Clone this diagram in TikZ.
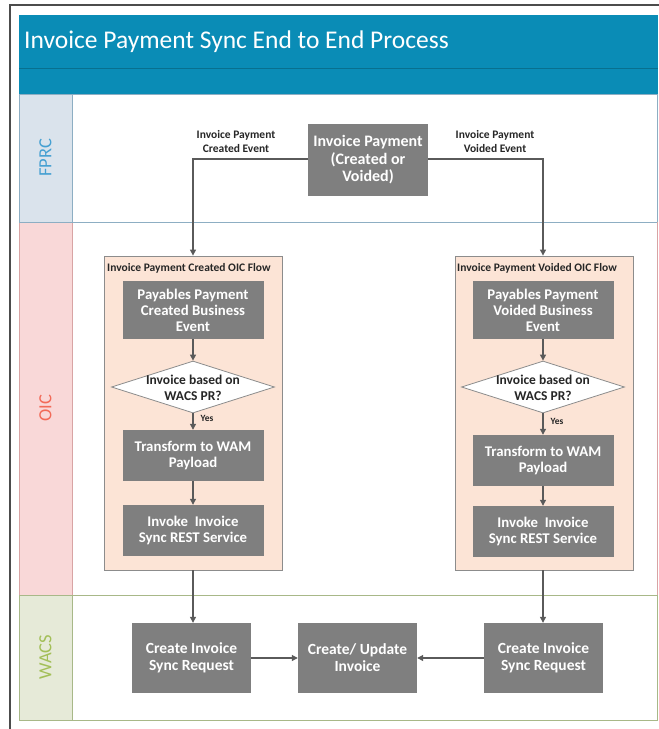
\documentclass[tikz,border=0pt]{standalone}
\usepackage{fontspec}
\setmainfont{Carlito}
\usetikzlibrary{arrows.meta,shapes.geometric}

\definecolor{barblue}{HTML}{0A8CB6}
\definecolor{bardark}{HTML}{08708F}
\definecolor{fprcfill}{HTML}{DAE3EC}
\definecolor{fprcline}{HTML}{8DAEC3}
\definecolor{fprctext}{HTML}{45A0D2}
\definecolor{oicfill}{HTML}{F9D8D8}
\definecolor{oicline}{HTML}{D8A4A4}
\definecolor{oictext}{HTML}{F26A58}
\definecolor{wacsfill}{HTML}{E6EAD8}
\definecolor{wacsline}{HTML}{A8B888}
\definecolor{wacstext}{HTML}{A3BF58}
\definecolor{boxgray}{HTML}{7F7F7F}
\definecolor{peach}{HTML}{FCE4D6}
\definecolor{framegray}{HTML}{8C8C8C}
\definecolor{linegray}{HTML}{5A5A5A}
\definecolor{labeltext}{HTML}{262626}

\begin{document}
\begin{tikzpicture}[x=1pt,y=-1pt,
  proc/.style={rectangle, fill=boxgray, text=white, align=center, inner sep=1pt,
    font=\bfseries\fontsize{14.8}{16}\selectfont},
  flowbox/.style={rectangle, draw=framegray, fill=peach, line width=0.8pt,
    minimum width=178pt, minimum height=314pt},
  decide/.style={diamond, draw=framegray, fill=white, line width=0.8pt, inner sep=0pt,
    minimum width=163pt, minimum height=52pt},
  link/.style={draw=linegray, line width=1.1pt, -{Triangle[width=6pt,length=6pt]}},
  evlabel/.style={text=labeltext, align=center, inner sep=0pt,
    font=\bfseries\fontsize{11.5}{14}\selectfont},
  flowtitle/.style={text=labeltext, anchor=west, inner sep=0pt,
    font=\bfseries\fontsize{11.5}{12}\selectfont},
  dectext/.style={text=labeltext, align=center, inner sep=0pt,
    font=\bfseries\fontsize{13.5}{16}\selectfont},
  lanetitle/.style={rotate=90, inner sep=0pt, font=\fontsize{18.5}{20}\selectfont},
  yeslabel/.style={text=labeltext, inner sep=0pt, font=\bfseries\fontsize{9.5}{10}\selectfont}
]
\useasboundingbox (0,0) rectangle (659,729);

% outer frame
\draw[draw=black!70, line width=1.2pt] (10,729) -- (10,5) -- (659,5);

% title bar and band
\fill[barblue] (19,15) rectangle (658,94);
\draw[bardark, line width=0.8pt] (19,68) -- (658,68);
\node[anchor=west, text=white, inner sep=0pt, font=\fontsize{25.5}{28}\selectfont]
  (title) at (24,42) {Invoice Payment Sync End to End Process};

% swim lanes
\draw[fprcline, line width=0.9pt] (19,94) rectangle (657,222);
\filldraw[fill=fprcfill, draw=fprcline, line width=0.9pt] (19,94) rectangle (72,222);
\draw[oicline, line width=0.9pt] (19,222) rectangle (657,595);
\filldraw[fill=oicfill, draw=oicline, line width=0.9pt] (19,222) rectangle (72,595);
\draw[wacsline, line width=0.9pt] (19,595) rectangle (657,720);
\filldraw[fill=wacsfill, draw=wacsline, line width=0.9pt] (19,595) rectangle (72,720);
\draw[fprcline, line width=0.9pt] (19,222) -- (657,222);

\node[lanetitle, text=fprctext] (fprc) at (45.5,158) {FPRC};
\node[lanetitle, text=oictext] (oic) at (45.5,408) {OIC};
\node[lanetitle, text=wacstext] (wacs) at (45.5,657) {WACS};

% source event
\node[proc, minimum width=120pt, minimum height=72pt,
  font=\bfseries\fontsize{16}{17.5}\selectfont] (src) at (368,160)
  {Invoice Payment\\(Created or\\Voided)};
\node[evlabel] (lcreated) at (236,142) {Invoice Payment\\Created Event};
\node[evlabel] (lvoided) at (495,142) {Invoice Payment\\Voided Event};

% OIC flow containers
\node[flowbox] (cflow) at (193,413) {};
\node[flowbox] (vflow) at (544,413) {};
\node[flowtitle] (ctitle) at (107,268) {Invoice Payment Created OIC Flow};
\node[flowtitle] (vtitle) at (457,268) {Invoice Payment Voided OIC Flow};

% created flow steps
\node[proc, minimum width=141pt, minimum height=58pt] (cpay) at (193,310)
  {Payables Payment\\Created Business\\Event};
\node[decide] (cdec) at (193,387) {};
\node[dectext] (cdectext) at (193,388) {Invoice based on\\WACS PR?};
\node[proc, minimum width=141pt, minimum height=51pt] (ctrans) at (193,455.5)
  {Transform to WAM\\Payload};
\node[proc, minimum width=141pt, minimum height=51pt] (cinv) at (193,530.5)
  {Invoke\ \ Invoice\\Sync REST Service};
\node[yeslabel] (cyes) at (207,418) {Yes};

% voided flow steps
\node[proc, minimum width=141pt, minimum height=58pt] (vpay) at (543,310)
  {Payables Payment\\Voided Business\\Event};
\node[decide] (vdec) at (543,387) {};
\node[dectext] (vdectext) at (543,388) {Invoice based on\\WACS PR?};
\node[proc, minimum width=141pt, minimum height=51pt] (vtrans) at (543,460.5)
  {Transform to WAM\\Payload};
\node[proc, minimum width=141pt, minimum height=51pt] (vinv) at (543,531.5)
  {Invoke\ \ Invoice\\Sync REST Service};
\node[yeslabel] (vyes) at (557,421) {Yes};

% WACS steps
\node[proc, minimum width=119pt, minimum height=70pt,
  font=\bfseries\fontsize{15.5}{17}\selectfont] (creq) at (191.5,658)
  {Create Invoice\\Sync Request};
\node[proc, minimum width=119pt, minimum height=70pt,
  font=\bfseries\fontsize{15.5}{17}\selectfont] (upd) at (357.5,658)
  {Create/ Update\\Invoice};
\node[proc, minimum width=119pt, minimum height=70pt,
  font=\bfseries\fontsize{15.5}{17}\selectfont] (vreq) at (543.5,658)
  {Create Invoice\\Sync Request};

% connectors
\draw[link] (src.west |- 0,159) -| (cflow.north);
\draw[link] (src.east |- 0,159) -| (vflow.north -| vpay.north);
\draw[link] (cpay) -- (cdec);
\draw[link] (cdec) -- (ctrans);
\draw[link] (ctrans) -- (cinv);
\draw[link] (vpay) -- (vdec);
\draw[link] (vdec) -- (vtrans);
\draw[link] (vtrans) -- (vinv);
\draw[link] (cflow.south) -- (creq.north -| cflow.south);
\draw[link] (vflow.south -| vpay.south) -- (vreq.north -| vpay.south);
\draw[link] (creq) -- (upd);
\draw[link] (vreq) -- (upd);
\end{tikzpicture}
\end{document}
